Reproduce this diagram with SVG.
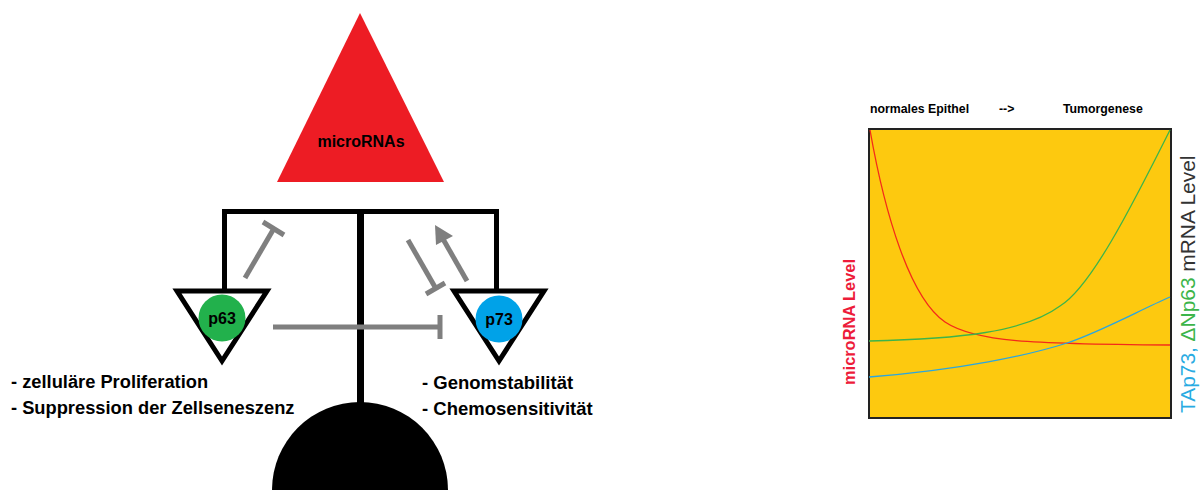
<svg xmlns="http://www.w3.org/2000/svg" width="1203" height="490" viewBox="0 0 1203 490">
<defs>
<style>
.blk{fill:none;stroke:#000;stroke-width:5;stroke-linecap:square}
.gry{fill:none;stroke:#7f7f7f;stroke-width:5;stroke-linecap:butt}
.tri{fill:#fff;stroke:#000;stroke-width:5;stroke-linejoin:miter}
.lbl{font-family:"Liberation Sans",Arial,sans-serif;font-weight:bold}
.curve{fill:none;stroke-width:1.3}
</style>
</defs>
<rect width="1203" height="490" fill="#fff"/>

<g id="scale-frame">
<line class="blk" x1="224.5" y1="211.5" x2="496.5" y2="211.5"/>
<line class="blk" x1="224.5" y1="211.5" x2="224.5" y2="289"/>
<line class="blk" x1="496.5" y1="211.5" x2="496.5" y2="289"/>
<line x1="360.5" y1="211" x2="360.5" y2="405" stroke="#000" stroke-width="7"/>
<path id="base" d="M272,490 A88,88 0 0 1 448,490 Z" fill="#000"/>
</g>

<g id="microRNAs">
<polygon points="360,13 277,182 444,182" fill="#ed1c24"/>
<text class="lbl" x="361" y="147" font-size="16" text-anchor="middle" fill="#000">microRNAs</text>
</g>

<g id="p63">
<polygon class="tri" points="177,291 267,291 222,361"/>
<circle cx="222" cy="318" r="23.5" fill="#22b14c"/>
<text class="lbl" x="222" y="324" font-size="16" text-anchor="middle" fill="#000">p63</text>
</g>

<g id="p73">
<polygon class="tri" points="454,291 544,291 499,361"/>
<circle cx="499" cy="319" r="23.5" fill="#00a2e8"/>
<text class="lbl" x="499" y="325" font-size="16" text-anchor="middle" fill="#000">p73</text>
</g>

<g id="connectors">
<line class="gry" x1="245" y1="278" x2="273" y2="230"/>
<line class="gry" x1="263" y1="222" x2="284" y2="235"/>
<line class="gry" x1="273" y1="327" x2="440" y2="327"/>
<line class="gry" x1="440" y1="315" x2="440" y2="339"/>
<line class="gry" x1="408" y1="240" x2="435" y2="287"/>
<line class="gry" x1="426" y1="294" x2="445" y2="283"/>
<line class="gry" x1="467" y1="281" x2="443" y2="239"/>
<polygon points="435,225 453,236 436,245" fill="#7f7f7f"/>
</g>

<g id="p63-text" class="lbl" font-size="18.3" fill="#000">
<text x="11" y="388">- zelluläre Proliferation</text>
<text x="11" y="414">- Suppression der Zellseneszenz</text>
</g>

<g id="p73-text" class="lbl" font-size="18.5" fill="#000">
<text x="422" y="389">- Genomstabilität</text>
<text x="422" y="415">- Chemosensitivität</text>
</g>

<g id="chart">
<text class="lbl" x="870" y="113" font-size="12.3" fill="#000">normales Epithel</text>
<text class="lbl" x="999" y="113" font-size="12.3" fill="#000">--&gt;</text>
<text class="lbl" x="1063" y="113" font-size="12.3" fill="#000">Tumorgenese</text>
<rect x="869" y="129" width="302" height="289" fill="#fdc90f" stroke="#222" stroke-width="2"/>
<path class="curve" stroke="#f42a1a" d="M870,130 C885,215 910,298 945,322 C975,342 1030,344 1170,345"/>
<path class="curve" stroke="#3cb44b" d="M869,341 C960,339 1025,332 1060,306 C1090,288 1130,210 1170,130"/>
<path class="curve" stroke="#2aa6e0" d="M869,377 C960,370 1030,355 1067,343 C1100,332 1140,310 1170,297"/>
<text class="lbl" transform="translate(855,385) rotate(-90)" font-size="16.4" fill="#ed1c3a">microRNA Level</text>
<text transform="translate(1195,413) rotate(-90)" font-family="'Liberation Sans',Arial,sans-serif" font-size="20.9"><tspan fill="#29abe2">TAp73, </tspan><tspan fill="#3db54a">ΔNp63</tspan><tspan fill="#333"> mRNA Level</tspan></text>
</g>
</svg>
